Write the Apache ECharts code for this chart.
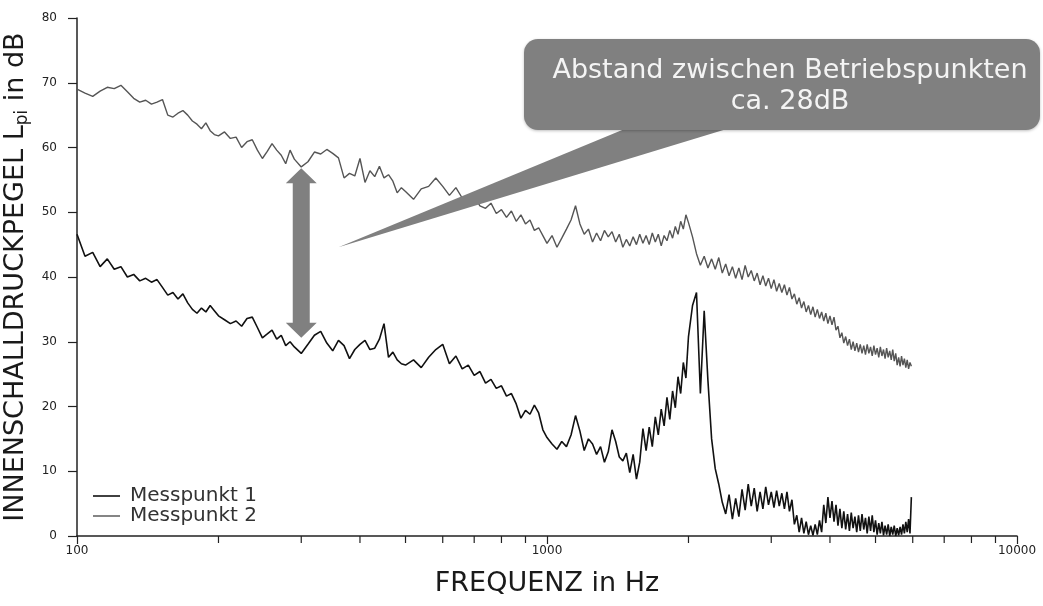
<!DOCTYPE html>
<html><head><meta charset="utf-8">
<script src="https://cdn.jsdelivr.net/npm/echarts@6/dist/echarts.min.js"></script>
<style>html,body{margin:0;padding:0;background:#fff}#c{width:1043px;height:606px}</style>
</head><body><div id="c"></div>
<script>
// Frequencies (Hz)
const freq = [
100,104,108,112,116,120,124,128,132,136,140,144,148,152,156,160,164,168,172,176,180,184,188,192,196,
200,206,212,218,224,230,236,242,248,254,260,266,272,278,284,290,
300,310,320,330,340,350,360,370,380,390,400,410,420,430,440,450,460,470,480,490,
500,520,540,560,580,600,620,640,660,680,700,720,740,760,780,800,820,840,860,880,900,920,940,960,980,
1000,1025,1050,1075,1100,1125,1150,1175,1200,1225,1250,1275,1300,1325,1350,1375,1400,1425,1450,1475,
1500,1525,1550,1575,1600,1625,1650,1675,1700,1725,1750,1775,1800,1825,1850,1875,1900,1925,1950,1975,
2000,2040,2080,2120,2160,2200,2240,2280,2320,2360,2400,2440,2480,2520,2560,2600,2640,2680,2720,2760,
2800,2840,2880,2920,2960,3000,3040,3080,3120,3160,3200,3240,3280,3320,3360,3400,3440,3480,3520,3560,
3600,3640,3680,3720,3760,3800,3840,3880,3920,3960,4000,4040,4080,4120,4160,4200,4240,4280,4320,4360,
4400,4440,4480,4520,4560,4600,4640,4680,4720,4760,4800,4840,4880,4920,4960,5000,5040,5080,5120,5160,
5200,5240,5280,5320,5360,5400,5440,5480,5520,5560,5600,5640,5680,5720,5760,5800,5840,5880,5920,5960
];
// Messpunkt 1 (dB)
const messpunkt1 = [
46.6,43.2,43.8,41.6,42.8,41.2,41.6,40.0,40.4,39.4,39.8,39.2,39.6,38.4,37.2,37.6,36.6,37.4,36.0,35.0,34.4,35.2,34.6,35.6,34.8,
34.0,33.4,32.8,33.2,32.4,33.6,33.8,32.2,30.6,31.2,31.8,30.4,31.0,29.4,30.0,29.2,
28.2,29.6,31.0,31.6,29.8,28.6,30.2,29.4,27.4,28.8,29.6,30.2,28.8,29.0,30.4,32.8,27.6,28.4,27.2,26.6,
26.4,27.2,26.0,27.6,28.8,29.6,26.6,27.8,25.8,26.4,24.8,25.4,23.6,24.2,22.8,23.2,21.6,22.0,20.4,18.2,19.4,18.8,20.2,19.0,16.4,
15.2,14.2,13.4,14.6,13.8,15.6,18.6,16.2,13.2,15.0,14.2,12.6,13.8,11.4,13.0,16.4,14.6,12.2,11.6,12.8,
9.8,12.6,8.8,11.4,16.6,13.2,16.8,13.8,18.4,15.6,19.6,17.0,21.4,18.0,22.4,19.8,24.6,22.0,26.8,24.4,
30.8,35.6,37.6,22.0,34.8,24.0,15.0,10.4,8.0,5.2,3.4,6.4,2.6,5.8,3.0,7.2,4.0,8.0,4.6,7.4,
3.8,6.8,4.2,7.6,4.8,6.8,4.4,7.0,4.6,6.6,4.2,6.8,3.8,5.6,1.8,3.2,0.6,2.8,0.4,2.2,
0.2,1.6,0.1,1.8,0.2,2.4,0.6,4.8,2.0,6.0,2.8,5.4,2.2,4.8,1.6,4.2,1.2,3.8,1.0,3.4,
0.8,3.6,1.2,3.0,0.6,3.2,0.8,3.4,1.0,2.8,0.4,3.0,0.8,3.2,0.6,2.4,0.2,2.0,0.4,2.2,
0.1,1.6,0.2,1.8,0.0,1.4,0.2,1.6,0.0,1.2,0.1,1.4,0.2,1.8,0.4,2.2,0.6,2.6,0.4,6.0
];
// Messpunkt 2 (dB)
const messpunkt2 = [
69.0,68.4,67.9,68.7,69.3,69.1,69.6,68.6,67.6,67.0,67.3,66.7,67.0,67.4,65.0,64.7,65.3,65.7,65.0,64.1,63.6,62.9,63.8,62.6,62.0,
61.8,62.4,61.4,61.6,60.0,60.9,61.2,59.6,58.3,59.4,60.6,59.6,58.8,57.5,59.6,58.2,
57.0,57.8,59.3,59.0,59.7,59.1,58.4,55.3,56.0,55.6,58.3,54.6,56.4,55.5,57.1,55.3,55.8,54.8,53.0,53.8,
53.2,52.0,53.6,54.0,55.3,54.0,52.6,53.8,52.2,51.6,52.4,51.0,50.6,51.4,49.8,50.4,49.2,50.2,48.6,49.6,48.2,48.8,47.2,47.6,46.4,
45.2,46.4,44.6,46.0,47.4,48.8,51.0,48.2,46.6,47.4,45.4,46.8,45.6,47.2,46.2,47.0,45.4,46.6,44.6,45.8,
44.8,46.2,45.0,46.6,45.2,46.4,45.0,46.8,45.4,46.6,44.8,46.4,45.6,47.2,46.0,47.8,46.6,48.6,47.4,49.6,
48.4,46.2,43.6,41.8,43.2,41.4,42.8,41.2,43.0,40.6,42.0,40.2,41.6,39.8,41.4,39.6,41.8,40.0,41.0,39.4,
40.6,38.8,40.2,38.6,39.8,38.2,39.6,37.8,39.0,37.6,38.8,37.2,38.4,36.6,37.4,35.8,36.8,35.2,36.2,34.6,
35.6,34.2,35.4,33.8,35.0,33.6,34.6,33.2,34.4,32.8,34.0,32.6,33.8,31.8,32.4,30.6,31.4,29.8,30.8,29.4,
30.4,28.8,30.0,28.6,29.8,28.4,29.6,28.2,29.4,28.0,29.6,28.2,29.2,27.8,29.4,28.0,29.0,27.6,29.2,27.8,
28.8,27.4,29.0,27.6,28.6,27.2,28.8,27.0,28.2,26.4,27.6,26.2,27.8,26.4,27.4,26.0,27.2,25.8,26.8,26.2
];
const seriesNames = ['Messpunkt 1', 'Messpunkt 2'];
const xMinorTicks = [200,300,400,500,600,700,800,900,2000,3000,4000,5000,6000,7000,8000,9000];
const xAxisTitle = 'FREQUENZ in Hz';
const yAxisTitle = 'INNENSCHALLDRUCKPEGEL L{sub|pi} in dB';
const calloutText = ['Abstand zwischen Betriebspunkten', 'ca. 28dB'];
const arrowFreq = 300, arrowTopDb = 56.8, arrowBottomDb = 30.6;
const pointerFreq = 360, pointerDb = 44.6;

const FONT = 'DejaVu Sans';
const chart = echarts.init(document.getElementById('c'), null, {renderer: 'canvas'});
const pairs = arr => freq.map((f, i) => [f, arr[i]]);

chart.setOption({
  animation: false,
  backgroundColor: '#ffffff',
  grid: {left: 77, right: 26, top: 18, bottom: 70, containLabel: false, outerBoundsMode: 'none'},
  legend: {
    orient: 'vertical', left: 88, top: 481, itemWidth: 27, itemHeight: 1.6, itemGap: 0,
    textStyle: {fontFamily: FONT, fontSize: 20, color: '#333', lineHeight: 19, padding: [0, 0, 0, 5]},
    data: [{name: seriesNames[0], icon: 'rect'}, {name: seriesNames[1], icon: 'rect'}]
  },
  xAxis: {
    type: 'log', logBase: 10, min: 100, max: 10000,
    name: xAxisTitle, nameLocation: 'middle', nameGap: 34,
    nameTextStyle: {fontFamily: FONT, fontSize: 27, color: '#1a1a1a'},
    axisLine: {lineStyle: {color: '#222', width: 1.5}},
    axisTick: {show: true, length: 8, lineStyle: {color: '#222', width: 1.2}},
    axisLabel: {fontFamily: FONT, fontSize: 12, color: '#222', margin: 9, formatter: v => String(Math.round(v))},
    splitLine: {show: false}, minorTick: {show: false}
  },
  yAxis: {
    type: 'value', min: 0, max: 80, interval: 10,
    name: yAxisTitle, nameLocation: 'middle', nameGap: 40,
    nameTextStyle: {fontFamily: FONT, fontSize: 27, color: '#1a1a1a', lineHeight: 30,
      rich: {sub: {fontFamily: FONT, fontSize: 17, color: '#1a1a1a', verticalAlign: 'bottom', lineHeight: 17}}},
    axisLine: {show: true, lineStyle: {color: '#222', width: 1.5}},
    axisTick: {show: true, length: 9, lineStyle: {color: '#222', width: 1.2}},
    axisLabel: {fontFamily: FONT, fontSize: 12, color: '#222', margin: 20},
    splitLine: {show: false}
  },
  series: [
    {name: seriesNames[0], type: 'line', data: pairs(messpunkt1), showSymbol: false, symbol: 'none',
     lineStyle: {color: '#111', width: 1.6}, itemStyle: {color: '#111'}, z: 3},
    {name: seriesNames[1], type: 'line', data: pairs(messpunkt2), showSymbol: false, symbol: 'none',
     lineStyle: {color: '#555', width: 1.4}, itemStyle: {color: '#666'}, z: 2}
  ]
});

// overlays computed through the axes
const px = v => chart.convertToPixel({xAxisIndex: 0}, v);
const py = v => chart.convertToPixel({yAxisIndex: 0}, v);
const y0 = py(0);
const g = [];
xMinorTicks.forEach(v => {
  const x = px(v);
  g.push({type: 'line', shape: {x1: x, y1: y0, x2: x, y2: y0 + 7}, style: {stroke: '#222', lineWidth: 1.2}, silent: true});
});
// double arrow
const ax = px(arrowFreq), at = py(arrowTopDb), ab = py(arrowBottomDb);
const hw = 15.5, hh = 15, sw = 8.5;
g.push({type: 'polygon', z: 10, shape: {points: [
  [ax, at], [ax + hw, at + hh], [ax + sw, at + hh], [ax + sw, ab - hh], [ax + hw, ab - hh],
  [ax, ab], [ax - hw, ab - hh], [ax - sw, ab - hh], [ax - sw, at + hh], [ax - hw, at + hh]
]}, style: {fill: '#808080'}});
// callout
const tx = px(pointerFreq), ty = py(pointerDb);
g.push({type: 'polygon', z: 10, shape: {points: [[627, 128], [730, 128], [tx, ty]]}, style: {fill: '#808080'}});
g.push({type: 'rect', z: 10, shape: {x: 524, y: 39, width: 516, height: 91, r: 14},
  style: {fill: '#808080', shadowBlur: 3, shadowColor: 'rgba(0,0,0,0.25)', shadowOffsetY: 1}});
g.push({type: 'text', z: 11, x: 790, y: 86, style: {
  text: calloutText.join('\n'), fontFamily: FONT, fontSize: 27, fill: '#f4f4f4',
  align: 'center', verticalAlign: 'middle', lineHeight: 31}});
chart.setOption({graphic: g});
</script>
</body></html>
